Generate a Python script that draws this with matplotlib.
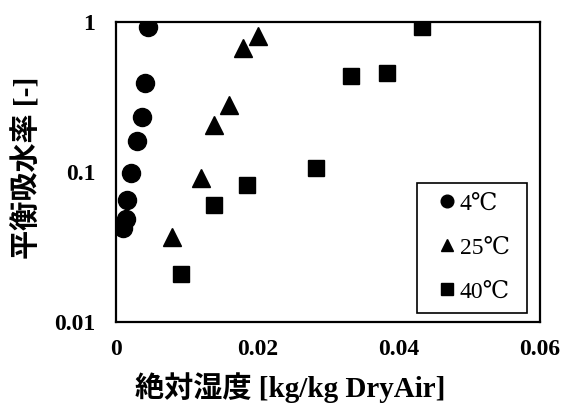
import matplotlib
matplotlib.use("Agg")
import matplotlib.pyplot as plt
from matplotlib.patches import Rectangle

# Data
x_4c = [0.00457, 0.0041, 0.00363, 0.00302, 0.00208, 0.0016, 0.00142, 0.00104]
y_4c = [0.93, 0.394, 0.234, 0.161, 0.098, 0.065, 0.0486, 0.0425]

x_25c = [0.0201, 0.0180, 0.0160, 0.0139, 0.0120, 0.00797]
y_25c = [0.81, 0.667, 0.28, 0.206, 0.091, 0.0367]

x_40c = [0.0092, 0.0139, 0.0186, 0.02826, 0.03325, 0.0383, 0.0433]
y_40c = [0.0208, 0.060, 0.082, 0.106, 0.436, 0.455, 0.93]

series_labels = ["4\u2103", "25\u2103", "40\u2103"]
x_ticks = [0, 0.02, 0.04, 0.06]
x_ticklabels = ["0", "0.02", "0.04", "0.06"]
y_ticks = [0.01, 0.1, 1]
y_ticklabels = ["0.01", "0.1", "1"]
x_label_jp = "絶対湿度 [kg/kg DryAir]"
y_label_jp = "平衡吸水率 [-]"

serif = ["Liberation Serif", "DejaVu Serif"]
mixed = ["Liberation Serif", "Noto Sans CJK JP", "DejaVu Sans"]

fig = plt.figure(figsize=(5.63, 4.03), dpi=100)
ax = fig.add_axes([116/563, 1-322/403, (540-116)/563, (322-22)/403])

ax.plot(x_4c, y_4c, linestyle="none", marker="o", color="black", markersize=13, label=series_labels[0])
ax.plot(x_25c, y_25c, linestyle="none", marker="^", color="black", markersize=13, label=series_labels[1])
ax.plot(x_40c, y_40c, linestyle="none", marker="s", color="black", markersize=12, label=series_labels[2])

ax.set_yscale("log")
ax.set_xlim(0, 0.06)
ax.set_ylim(0.01, 1)
ax.set_xticks(x_ticks)
ax.set_xticklabels(x_ticklabels)
ax.set_yticks(y_ticks)
ax.set_yticklabels(y_ticklabels)
ax.minorticks_off()
ax.tick_params(axis="both", length=0)
ax.tick_params(axis="y", pad=15)
ax.tick_params(axis="x", pad=12)
for lab in ax.get_xticklabels() + ax.get_yticklabels():
    lab.set_fontfamily(serif)
    lab.set_fontweight("bold")
    lab.set_fontsize(17)
for sp in ax.spines.values():
    sp.set_linewidth(1.6)
    sp.set_color("black")

fig.text(290/563, 1-397/403, x_label_jp, ha="center", va="baseline",
         fontsize=21, fontweight="bold", family=mixed)
fig.text(27/563, 1-168/403, y_label_jp, ha="center", va="center", rotation=90,
         fontsize=21, fontweight="bold", family=mixed)

# legend frame drawn separately so the entries can sit a bit inset
ax.add_patch(Rectangle((0.71, 0.03), 0.26, 0.435, transform=ax.transAxes,
                       fill=False, edgecolor="black", linewidth=1.2, zorder=5))
leg = ax.legend(loc="lower left", bbox_to_anchor=(0.736, 0.03, 0.234, 0.435), mode="expand",
                borderaxespad=0, frameon=False, markerscale=0.7,
                handlelength=0.7, handletextpad=0.2, labelspacing=0.95, borderpad=0.45,
                prop={"family": serif, "size": 17})

fig.savefig("out.png", dpi=100)
